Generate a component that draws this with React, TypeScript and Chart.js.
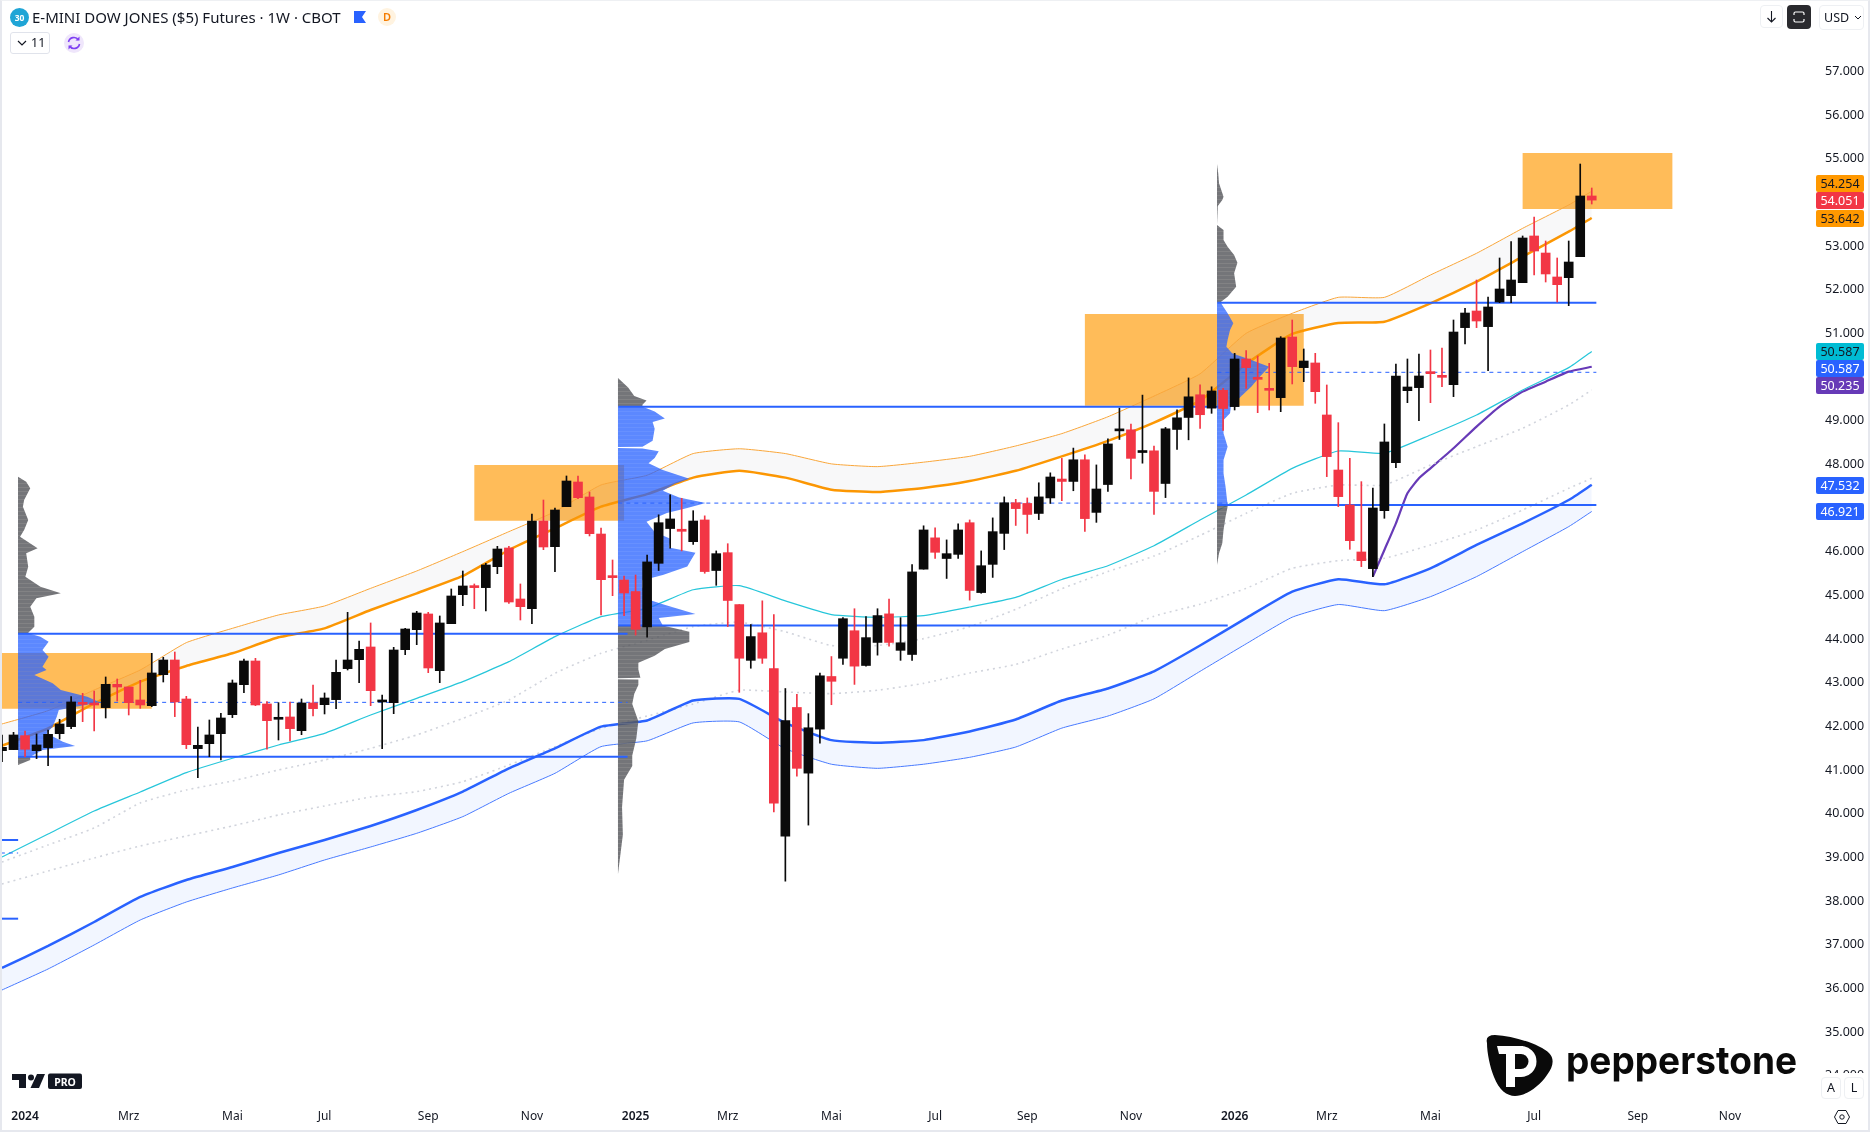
import React, { useEffect, useRef } from "react";
import { Chart, registerables } from "chart.js";

Chart.register(...registerables);

const opens = [41444,41467,41788,41444,41513,41833,41994,42528,42513,42429,42963,42902,42604,42474,43184,43520,42627,41490,41604,41833,42268,42955,43497,42513,42162,42215,41902,42536,42497,42612,43322,43528,43818,42559,42543,43757,44215,44574,43276,44352,45016,45192,45177,45657,46085,44917,44696,46703,46115,47031,47596,47253,46405,45421,45352,45088,44277,45734,46530,46514,46230,46727,45569,45978,44789,43512,44143,43323,39487,42433,40929,41937,43142,43560,44190,43394,43922,44576,43741,43646,45600,46317,45844,45939,46664,45064,45710,46419,47121,47105,46876,47231,47664,47609,48105,46900,47538,48767,48791,48271,48310,47562,48799,49074,49594,49287,49697,49322,50413,49993,49726,49528,50917,50215,50322,49131,47871,47070,45994,45612,46940,48039,49688,49757,50093,50024,49825,51131,51512,51154,51718,51863,52161,53230,52840,52291,52275,52756,54146];
const highs = [41803,41864,41894,41826,41917,42162,42681,42757,42810,43131,43085,42902,43055,43673,43581,43703,42688,41986,42146,42299,43062,43543,43558,42566,42543,42559,42627,42948,42765,43520,44612,43955,44368,42719,43810,44245,44635,44612,44528,45146,45558,45261,45734,46123,46123,45261,46863,47184,47001,47734,47734,47367,46543,45810,45444,45466,45923,46845,47302,47223,46939,46821,46018,46183,44789,44332,44875,44560,42867,42733,42291,43221,43599,44489,44694,44513,44694,44915,44489,45703,46593,46546,46270,46640,46727,46018,46774,47255,47199,47231,47578,47806,48137,48373,48216,47987,48586,49287,48925,49586,48420,48846,49248,49980,49823,49776,49744,50543,50604,50482,50314,50925,51306,50642,50543,49818,48955,48138,47604,47459,48925,50299,50413,50528,50619,50665,51306,51573,52222,51833,52726,53100,53230,53665,53115,52726,53115,54878,54329];
const lows = [41192,41467,41307,41261,41101,41711,41948,42108,41894,42192,42581,42261,42413,42452,43016,42223,41490,40826,41307,41230,42200,42772,42474,41475,41688,41665,41810,42238,42284,42406,43291,43001,42474,41490,42291,43642,43871,43230,43001,44352,44764,44696,44642,45497,44818,44436,44352,46047,45543,47031,47215,46360,44551,44993,44535,44090,44040,45569,46081,46018,46167,45506,45230,44285,42780,43331,43442,40038,38455,40858,39739,41614,42496,43418,42961,43379,43631,43835,43512,43512,45600,45844,45387,45844,44891,45049,45411,46049,46601,46419,46735,47105,47168,47396,46467,46672,47381,48570,47664,48027,46853,47239,48342,48562,48822,49169,48775,49245,49741,49184,49245,49207,49841,49894,49398,47719,47032,46055,45658,45429,46765,47925,49413,49001,49413,49780,49551,50757,51131,50146,51703,51703,52161,52337,52176,51718,51634,52756,53962];
const closes = [41520,41803,41475,41574,41818,42055,42559,42505,42490,42963,42902,42543,42490,43223,43520,42559,41581,41566,41803,42192,42994,43497,42490,42131,42207,41948,42536,42406,42650,43238,43520,43764,42818,42574,43749,44230,44596,43337,44368,44986,45215,45177,45696,46062,44848,44741,46703,46108,46955,47619,47237,46413,45360,45406,45054,44222,45766,46664,46750,46467,46703,45545,45955,44883,43560,44056,43560,40243,42134,41039,41968,43158,43032,44466,43379,44032,44537,43922,43914,45537,46498,45986,45955,46498,45112,45679,46459,47121,46987,46853,47255,47711,47609,48105,46758,47436,48468,48791,48137,48287,47381,48814,49066,49547,49137,49681,49279,50413,50215,49947,49696,50894,50238,50367,49665,48177,47261,46253,45795,47001,48513,50024,49772,50024,50077,49993,51031,51466,51283,51604,52016,52222,53184,52886,52360,52115,52634,54146,54051];

const maWeeks = [0,4,8,12,16,20,24,28,32,36,40,44,48,52,56,60,64,68,72,76,80,84,88,92,96,100,104,108,112,116,120,124,128,132,136,138];
const orangeThin = [42055,42360,42833,43291,43917,44245,44551,44757,45161,45558,46001,46459,46917,47528,47751,48247,48357,48247,48011,47948,48050,48184,48421,48704,49090,49563,50075,51001,51459,51825,51825,52337,52833,53405,53940,54254];
const orangeThick = [41558,41955,42528,43024,43383,43673,44039,44245,44665,45047,45444,46039,46535,47031,47318,47696,47853,47696,47420,47365,47459,47617,47853,48184,48539,48956,49460,50299,50986,51237,51268,51688,52184,52756,53329,53642];
const tealLine = [39009,39536,40062,40497,40940,41269,41574,41841,42261,42642,43024,43482,44055,44512,44702,45128,45222,44875,44560,44497,44537,44733,44954,45364,45679,46136,46727,47299,47909,48306,48253,48673,49131,49703,50215,50587];
const dottedUpper = [38894,39284,39673,40246,40543,40749,41001,41230,41497,41803,42184,42604,43215,43673,43969,44284,44387,44166,43851,43851,44009,44284,44679,45151,45545,45900,46372,46879,47337,47528,47528,47986,48406,48825,49360,49703];
const dottedLower = [38391,38688,38986,39261,39490,39719,39971,40177,40383,40505,40734,41116,41536,41955,42236,42512,42827,42788,42749,42827,42985,43221,43418,43772,44088,44521,44797,45161,45620,45795,45849,46154,46497,46955,47451,47681];
const blueThick = [36467,36971,37520,38093,38482,38780,39100,39398,39719,40085,40505,41039,41497,41994,42134,42591,42630,42079,41685,41622,41685,41882,42157,42591,42867,43260,43851,44480,45085,45368,45253,45620,46154,46650,47184,47532];
const blueThin = [35963,36444,36994,37566,37978,38299,38597,38940,39238,39551,39933,40467,40925,41536,41669,42079,42102,41488,41133,41039,41133,41291,41527,41960,42236,42630,43260,43890,44500,44790,44650,44970,45429,46001,46574,46921];
const purpleWeeks = [119,120,121,122,123,124,126,128,130,132,134,136,138];
const purpleLine = [45429,46040,46650,47337,47681,47909,48368,48864,49322,49665,49894,50123,50235];

const zoneWeeks = [[0,13],[41,54],[94,113],[132,145]];
const zonePrices = [[43680,42405],[47985,46710],[51444,49344],[55130,53848]];

const levelSpans = [[-0.1,1.4],[-0.1,1.4],[1.4,54.3],[1.4,54.3],[53.5,106.4],[53.5,106.4],[105.5,138.4],[105.5,138.4]];
const levelPrices = [39398,37596,44120,41306,49319,44308,51703,47070];
const dashSpans = [[-0.1,1.4],[1.4,54.3],[53.5,106.4],[105.5,138.4]];
const dashPrices = [39100,42550,47113,50108];

const profileAPrices = [47718,47604,47451,47184,47031,46726,46497,46344,46077,45963,45657,45428,45199,45047,44932,44741,44513,44283,44146,44120,44055,43940,43749,43597,43367,43291,43177,42986,42833,42680,42551,42375,42223,41994,41841,41650,41551,41459,41307,41230,41116];
const profileAVolumes = [0,20,30,15,12,25,15,5,48,20,25,18,55,105,45,30,40,40,25,30,55,75,60,75,60,70,40,85,105,170,200,100,95,85,70,110,140,60,30,30,0];
const profileBPrices = [49980,49760,49563,49460,49366,49319,49287,49208,49051,48972,48814,48539,48405,48397,48373,48365,48302,48145,48027,47869,47672,47554,47396,47239,47113,47002,46884,46687,46451,46293,46097,45978,45821,45663,45466,45348,45191,44915,44797,44576,44482,44308,44166,43930,43772,43615,43457,43300,43111,43103,43079,43071,42945,42748,42512,42118,41724,41330,41094,40779,40149,39518,38612];
const profileBVolumes = [0,25,40,70,60,60,70,90,115,85,90,85,60,0,0,60,100,90,75,110,175,140,110,150,215,170,120,70,90,130,125,190,180,170,110,60,60,70,110,190,100,110,175,175,115,90,50,50,55,0,0,50,50,40,35,50,45,35,35,15,10,12,0];
const profileCPrices = [54878,54665,54436,54130,54054,53917,53909,53489,53481,53367,53138,52985,52795,52619,52375,52070,51840,51726,51703,51688,51459,51230,51077,50848,50696,50543,50390,50238,50009,49780,49551,49322,49169,49016,48711,48406,48100,47795,47489,47070,47032,46803,46497,46192,45963,45696];
const profileCVolumes = [0,3,5,16,13,2,0,0,0,16,16,26,42,50,42,47,26,10,10,10,26,40,32,26,23,37,84,128,105,84,58,34,32,16,16,26,16,16,21,26,26,21,16,13,5,0];
const profileStarts = [1.39,53.47,105.47];
const valueAreas = [[44120,41307],[49319,44308],[51703,47070]];

const priceTicks = [34000,35000,36000,37000,38000,39000,40000,41000,42000,43000,44000,45000,46000,48000,49000,51000,52000,53000,55000,56000,57000];
const timeWeeks = [2,11,20,28,37,46,55,63,72,81,89,98,107,115,124,133,142,150];
const timeLabels = ["2024","Mrz","Mai","Jul","Sep","Nov","2025","Mrz","Mai","Jul","Sep","Nov","2026","Mrz","Mai","Jul","Sep","Nov"];

const tagLabels = ["54.254","54.051","53.642","50.587","50.587","50.235","47.532","46.921"];
const tagLook = [
  { top: 175, bg: "#ff9800", fg: "#131722" },
  { top: 192, bg: "#f23645", fg: "#ffffff" },
  { top: 210, bg: "#ff9800", fg: "#131722" },
  { top: 343, bg: "#00bcd4", fg: "#131722" },
  { top: 360, bg: "#2962ff", fg: "#ffffff" },
  { top: 377, bg: "#673ab7", fg: "#ffffff" },
  { top: 477, bg: "#2962ff", fg: "#ffffff" },
  { top: 503, bg: "#2962ff", fg: "#ffffff" },
];

const FONT = '"Noto Sans", sans-serif';
const TEXT = "#131722";
const volumeToWeeks = 0.0354;

function stripes(a: string, b: string, rows: number[]) {
  const c = document.createElement("canvas");
  c.width = 1;
  c.height = rows[0] + rows[1];
  const g = c.getContext("2d")!;
  g.fillStyle = a;
  g.fillRect(0, 0, 1, rows[0]);
  g.fillStyle = b;
  g.fillRect(0, rows[0], 1, rows[1]);
  return g.createPattern(c, "repeat")!;
}

function polygon(start: number, prices: number[], volumes: number[], hi: number, lo: number) {
  const rows: { x: number; y: number }[] = [];
  prices.forEach((p, i) => {
    if (p <= hi && p >= lo) rows.push({ x: start + volumes[i] * volumeToWeeks, y: p });
  });
  return [{ x: start, y: rows[0].y }, ...rows, { x: start, y: rows[rows.length - 1].y }];
}

function shape(data: { x: number; y: number }[], color: any, order: number) {
  return { type: "line", data, backgroundColor: color, borderWidth: 0, pointRadius: 0, tension: 0, fill: "shape", order };
}

function maLine(weeks: number[], values: number[], color: string, width: number, order: number, extra: any = {}) {
  return {
    type: "line",
    data: weeks.map((w, i) => ({ x: w, y: values[i] })),
    borderColor: color,
    borderWidth: width,
    pointRadius: 0,
    tension: 0.15,
    fill: false,
    order,
    ...extra,
  };
}

function Tag({ text, top, bg, fg }: { text: string; top: number; bg: string; fg: string }) {
  return (
    <div style={{ position: "absolute", left: 1816, top, width: 48, height: 16.5, background: bg, color: fg, font: `12.5px ${FONT}`, lineHeight: "17px", textAlign: "center", borderRadius: 2 }}>
      {text}
    </div>
  );
}

export default function App() {
  const ref = useRef<HTMLCanvasElement>(null);

  useEffect(() => {
    const weeks = opens.map((_, i) => i);
    const blueFill = stripes("rgba(41,98,255,0.76)", "rgba(41,98,255,0.71)", [3, 1]);
    const greyFill = stripes("rgba(85,87,92,0.82)", "rgba(108,108,110,0.85)", [3, 1]);
    const profiles = [
      { p: profileAPrices, v: profileAVolumes },
      { p: profileBPrices, v: profileBVolumes },
      { p: profileCPrices, v: profileCVolumes },
    ];
    const datasets: any[] = [];

    zoneWeeks.forEach((w, i) => {
      const [hi, lo] = zonePrices[i];
      datasets.push(shape([{ x: w[0], y: hi }, { x: w[1], y: hi }, { x: w[1], y: lo }, { x: w[0], y: lo }], "rgba(255,152,0,0.65)", 70));
    });

    datasets.push(maLine(maWeeks, orangeThin, "#f9a63a", 1, 60, { fill: "+1", backgroundColor: "rgba(120,123,134,0.05)" }));
    datasets.push(maLine(maWeeks, orangeThick, "#ff9800", 2.5, 60));
    datasets.push(maLine(maWeeks, blueThick, "#2962ff", 2.5, 60, { fill: "+1", backgroundColor: "rgba(41,98,255,0.06)" }));
    datasets.push(maLine(maWeeks, blueThin, "#4a7bff", 1, 60));
    datasets.push(maLine(maWeeks, tealLine, "#26c6da", 1.2, 60));
    datasets.push(maLine(maWeeks, dottedUpper, "#d1d4dc", 1.6, 60, { borderDash: [2, 4] }));
    datasets.push(maLine(maWeeks, dottedLower, "#d1d4dc", 1.6, 60, { borderDash: [2, 4] }));
    datasets.push(maLine(purpleWeeks, purpleLine, "#673ab7", 2.2, 60));

    profiles.forEach((pr, i) => {
      const [vah, val] = valueAreas[i];
      const start = profileStarts[i];
      datasets.push(shape(polygon(start, pr.p, pr.v, Infinity, vah), greyFill, 50));
      datasets.push(shape(polygon(start, pr.p, pr.v, vah, val), blueFill, 50));
      datasets.push(shape(polygon(start, pr.p, pr.v, val, -Infinity), greyFill, 50));
    });

    levelSpans.forEach((s, i) => {
      datasets.push({ type: "line", data: [{ x: s[0], y: levelPrices[i] }, { x: s[1], y: levelPrices[i] }], borderColor: "#2962ff", borderWidth: 2, pointRadius: 0, fill: false, order: 40 });
    });
    dashSpans.forEach((s, i) => {
      datasets.push({ type: "line", data: [{ x: s[0], y: dashPrices[i] }, { x: s[1], y: dashPrices[i] }], borderColor: "#2962ff", borderWidth: 1, borderDash: [4, 4], pointRadius: 0, fill: false, order: 40 });
    });

    const colors = weeks.map((i) => (closes[i] >= opens[i] ? "#0a0a0a" : "#f23645"));
    datasets.push({
      type: "bar",
      data: weeks.map((i) => ({ x: i, y: [lows[i], highs[i]] })),
      backgroundColor: colors,
      barThickness: 1,
      grouped: false,
      order: 20,
    });
    datasets.push({
      type: "bar",
      data: weeks.map((i) => ({ x: i, y: [Math.min(opens[i], closes[i]), Math.max(opens[i], closes[i])] })),
      backgroundColor: colors,
      barThickness: 9,
      minBarLength: 2,
      grouped: false,
      order: 10,
    });

    const chart = new Chart(ref.current!, {
      type: "bar",
      data: { datasets },
      options: {
        animation: false,
        responsive: false,
        devicePixelRatio: 1,
        layout: { padding: 0, autoPadding: false },
        plugins: { legend: { display: false }, tooltip: { enabled: false }, title: { display: false } },
        scales: {
          x: {
            type: "linear",
            offset: false,
            min: -0.174,
            max: 157.12,
            grid: { display: false, drawTicks: false },
            border: { display: false },
            afterBuildTicks: (s: any) => {
              s.ticks = timeWeeks.map((value) => ({ value }));
            },
            afterFit: (s: any) => {
              s.height = 29;
              s.paddingLeft = 0;
              s.paddingRight = 0;
              s.paddingTop = 0;
              s.paddingBottom = 0;
            },
            ticks: {
              autoSkip: false,
              maxRotation: 0,
              padding: 6,
              color: TEXT,
              font: (ctx: any) => ({ family: FONT, size: 12, weight: timeLabels[timeWeeks.indexOf(ctx.tick?.value)]?.startsWith("20") ? "600" : "400" }),
              callback: (v: any) => timeLabels[timeWeeks.indexOf(v)] ?? "",
            },
          },
          y: {
            type: "linear",
            position: "right",
            min: 33375,
            max: 58634,
            grid: { display: false, drawTicks: false },
            border: { display: false },
            afterBuildTicks: (s: any) => {
              s.ticks = priceTicks.map((value) => ({ value }));
            },
            afterFit: (s: any) => {
              s.width = 58;
              s.paddingLeft = 0;
              s.paddingRight = 0;
              s.paddingTop = 0;
              s.paddingBottom = 0;
            },
            ticks: {
              autoSkip: false,
              padding: 13,
              color: TEXT,
              font: { family: FONT, size: 12.5 },
              callback: (v: any) => Number(v).toLocaleString("de-DE", { minimumFractionDigits: 0 }),
            },
          },
        },
      } as any,
    } as any);
    return () => chart.destroy();
  }, []);

  return (
    <div style={{ position: "fixed", left: 0, top: 0, width: 1870, height: 1132, background: "#fff", overflow: "hidden" }}>
      <canvas ref={ref} width={1870} height={1132} style={{ display: "block" }} />

      {/* outer frame */}
      <div style={{ position: "absolute", inset: 0, borderLeft: "2px solid #e6e8ee", borderRight: "2px solid #e6e8ee", borderBottom: "2px solid #e6e8ee", borderTop: "1px solid #eef0f3", pointerEvents: "none" }} />

      {/* header */}
      <div style={{ position: "absolute", left: 10, top: 8, width: 19, height: 19, borderRadius: "50%", background: "#1fa5d6", color: "#fff", font: `700 8.5px ${FONT}`, lineHeight: "19px", textAlign: "center" }}>30</div>
      <div style={{ position: "absolute", left: 32, top: 6, font: `15px ${FONT}`, lineHeight: "22px", color: TEXT, whiteSpace: "nowrap" }}>E-MINI DOW JONES ($5) Futures · 1W · CBOT</div>
      <svg style={{ position: "absolute", left: 354, top: 11 }} width={13} height={13}><path d="M0 0H12L8 6L12 12H0Z" fill="#2962ff" /></svg>
      <div style={{ position: "absolute", left: 378, top: 8, width: 18, height: 18, borderRadius: "50%", background: "#fff3e0", color: "#f57c00", font: `600 11px ${FONT}`, lineHeight: "18px", textAlign: "center" }}>D</div>
      <div style={{ position: "absolute", left: 10, top: 32, width: 38, height: 20, border: "1px solid #e0e3eb", borderRadius: 3, color: TEXT, font: `12.5px ${FONT}`, lineHeight: "20px", boxSizing: "content-box" }}>
        <svg style={{ position: "absolute", left: 6, top: 7 }} width={10} height={7}><path d="M1 1L5 5L9 1" stroke="#131722" strokeWidth={1.2} fill="none" /></svg>
        <span style={{ position: "absolute", left: 20 }}>11</span>
      </div>
      <svg style={{ position: "absolute", left: 64, top: 33 }} width={20} height={20} viewBox="0 0 20 20">
        <circle cx={10} cy={10} r={10} fill="#efe6fb" />
        <path d="M4.5 9a5.5 5.5 0 0 1 10-2M15.5 11a5.5 5.5 0 0 1-10 2" stroke="#7e3ff2" strokeWidth={1.6} fill="none" />
        <path d="M15.5 3.5V7.5H11.5M4.5 16.5V12.5H8.5" fill="#7e3ff2" />
      </svg>

      {/* top right tools */}
      <div style={{ position: "absolute", left: 1760, top: 5, width: 23, height: 23, border: "1px solid #eef0f3", borderRadius: 4, boxSizing: "border-box" }}>
        <svg width={21} height={21}><path d="M10.5 5V16M6.5 12L10.5 16L14.5 12" stroke="#131722" strokeWidth={1.1} fill="none" /></svg>
      </div>
      <div style={{ position: "absolute", left: 1787, top: 5, width: 24, height: 24, background: "#2a2a2e", borderRadius: 4 }}>
        <svg width={24} height={24}><path d="M7 10V8.5Q7 7 8.5 7H15.5Q17 7 17 8.5V10M7 14V15.5Q7 17 8.5 17H15.5Q17 17 17 15.5V14" stroke="#fff" strokeWidth={1.2} fill="none" /></svg>
      </div>
      <div style={{ position: "absolute", left: 1819, top: 5, width: 45, height: 25, border: "1px solid #eef0f3", borderRadius: 4, boxSizing: "border-box", font: `12.5px ${FONT}`, lineHeight: "23px", color: TEXT, paddingLeft: 4 }}>
        USD
        <svg style={{ position: "absolute", left: 34, top: 9 }} width={8} height={6}><path d="M1 1L4 4L7 1" stroke="#131722" strokeWidth={1} fill="none" /></svg>
      </div>

      {/* price tags */}
      {tagLabels.map((text, i) => (
        <Tag key={i} text={text} {...tagLook[i]} />
      ))}

      {/* scale buttons */}
      <div style={{ position: "absolute", left: 1812, top: 1073, width: 56, height: 30, background: "#fff" }} />
      <div style={{ position: "absolute", left: 1821, top: 1077, width: 20, height: 22, border: "1px solid #eef0f3", borderRadius: 4, boxSizing: "border-box", font: `12.5px ${FONT}`, lineHeight: "20px", textAlign: "center", color: TEXT }}>A</div>
      <div style={{ position: "absolute", left: 1844, top: 1077, width: 20, height: 22, border: "1px solid #eef0f3", borderRadius: 4, boxSizing: "border-box", font: `12.5px ${FONT}`, lineHeight: "20px", textAlign: "center", color: TEXT }}>L</div>
      <svg style={{ position: "absolute", left: 1834, top: 1109 }} width={16} height={16}>
        <path d="M4 1.5H12L15.5 8L12 14.5H4L0.5 8Z" stroke="#131722" strokeWidth={1} fill="none" />
        <circle cx={8} cy={8} r={2.2} stroke="#131722" strokeWidth={1} fill="none" />
      </svg>

      {/* TradingView PRO mark */}
      <svg style={{ position: "absolute", left: 12, top: 1073 }} width={70} height={17} viewBox="0 0 70 17">
        <path d="M0 1H14V15H7V7H0Z" fill="#131722" />
        <circle cx={19} cy={4.5} r={3} fill="#131722" />
        <path d="M25 1H33L27 15H18.5Z" fill="#131722" />
        <rect x={36} y={0.5} width={34} height={15.5} rx={2} fill="#131722" />
        <text x={53} y={12.5} textAnchor="middle" fontFamily={FONT} fontWeight={700} fontSize={10.5} fill="#fff">PRO</text>
      </svg>

      {/* Pepperstone logo */}
      <svg style={{ position: "absolute", left: 1485, top: 1035 }} width={320} height={62} viewBox="0 0 320 62">
        <path d="M2 8Q0 0 10 0C30 1 56 10 64 18C70 24 68 32 62 40C54 52 40 61 30 61C22 61 14 55 9 42C5 32 2 18 2 8Z" fill="#0a0a0a" />
        <path d="M12 11H38V19H30V52H21V19H14Z" fill="#fff" />
        <path d="M36 15A11.5 11.5 0 0 1 36 38H29" stroke="#fff" strokeWidth={8} fill="none" />
        <text x={81} y={39} fontFamily='Inter, sans-serif' fontWeight={700} fontSize={39} fill="#0a0a0a" textLength={231} lengthAdjust="spacingAndGlyphs">pepperstone</text>
      </svg>
    </div>
  );
}
